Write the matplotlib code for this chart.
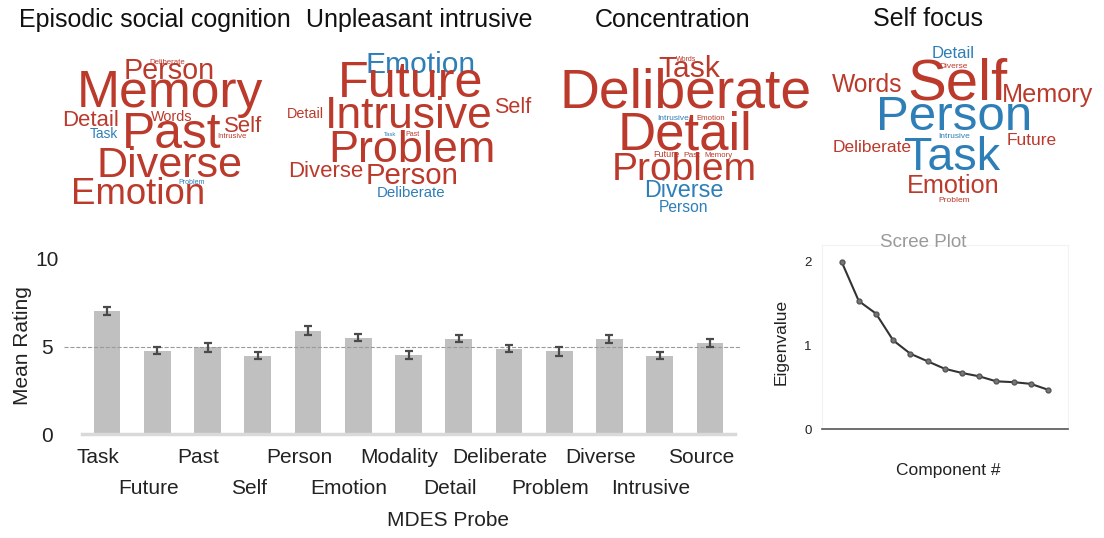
import numpy as np
import matplotlib.pyplot as plt

plt.rcParams['font.family'] = ['Liberation Sans', 'DejaVu Sans']

# MDES probe ratings
probes = ["Task", "Future", "Past", "Self", "Person", "Emotion", "Modality",
          "Detail", "Deliberate", "Problem", "Diverse", "Intrusive", "Source"]
mean_rating = [7.0, 4.73, 4.93, 4.45, 5.87, 5.47, 4.5, 5.4, 4.85, 4.7, 5.4, 4.45, 5.15]
sem = [0.23, 0.19, 0.25, 0.21, 0.27, 0.19, 0.23, 0.2, 0.2, 0.24, 0.22, 0.21, 0.23]
reference_level = 4.95

# Scree plot
components = np.arange(1, 14)
eigenvalues = [2.0, 1.53, 1.38, 1.06, 0.90, 0.81, 0.72, 0.67, 0.63, 0.57, 0.56, 0.54, 0.47]

# Word clouds: words, loading weights, sign (+1 red, -1 blue)
cloud_titles = ["Episodic social cognition", "Unpleasant intrusive", "Concentration", "Self focus"]

esc_words = ["Deliberate", "Person", "Memory", "Detail", "Words", "Self", "Task",
             "Past", "Intrusive", "Diverse", "Problem", "Emotion"]
esc_weights = [0.13, 0.48, 0.86, 0.37, 0.24, 0.37, 0.23, 0.83, 0.13, 0.72, 0.12, 0.61]
esc_signs = [1, 1, 1, 1, 1, 1, -1, 1, 1, 1, -1, 1]

ui_words = ["Emotion", "Future", "Self", "Detail", "Intrusive", "Task", "Past",
            "Problem", "Diverse", "Person", "Deliberate"]
ui_weights = [0.50, 0.84, 0.36, 0.24, 0.74, 0.10, 0.12, 0.75, 0.37, 0.49, 0.25]
ui_signs = [-1, 1, 1, 1, 1, -1, 1, 1, 1, 1, -1]

conc_words = ["Words", "Task", "Deliberate", "Intrusive", "Emotion", "Detail", "Future",
              "Past", "Memory", "Problem", "Diverse", "Person"]
conc_weights = [0.12, 0.50, 0.92, 0.14, 0.13, 0.88, 0.15, 0.14, 0.13, 0.65, 0.39, 0.26]
conc_signs = [1, 1, 1, -1, 1, 1, 1, 1, 1, 1, -1, -1]

sf_words = ["Detail", "Diverse", "Self", "Words", "Memory", "Person", "Intrusive",
            "Deliberate", "Future", "Task", "Emotion", "Problem"]
sf_weights = [0.28, 0.14, 0.97, 0.41, 0.42, 0.82, 0.14, 0.29, 0.29, 0.78, 0.42, 0.14]
sf_signs = [-1, 1, 1, 1, 1, -1, -1, 1, 1, -1, 1, 1]

# layout of the word clouds (pixel positions: centre x, baseline y)
title_pos = [(155, 27), (419, 27), (673, 27), (928, 26)]
esc_pos = [(167, 64), (169, 79), (170, 107), (91, 126), (172, 121), (243, 132), (104, 138),
           (172, 148), (232, 138), (170, 177), (192, 184), (138, 204)]
ui_pos = [(421, 73), (411, 97), (513, 113), (305, 118), (409, 128), (390, 136), (413, 136),
          (412, 162), (326, 177), (412, 184), (411, 197)]
conc_pos = [(686, 61), (689, 77), (686, 107), (673, 120), (711, 120), (685, 150), (666, 157),
            (692, 157), (718, 157), (684, 180), (684, 197), (683, 212)]
sf_pos = [(953, 58), (954, 68), (957, 100), (867, 92), (1048, 102), (954, 130), (954, 138),
          (872, 152), (1032, 145), (952, 170), (953, 193), (954, 202)]

red = '#bb3a2c'
blue = '#2e7fb8'

fig = plt.figure(figsize=(11.04, 5.38), dpi=100)

# Word clouds
top = fig.add_axes([0, 0, 1, 1], zorder=-1)
top.set_xlim(0, 1104)
top.set_ylim(538, 0)
top.axis('off')

for title, (tx, ty) in zip(cloud_titles, title_pos):
    top.text(tx, ty, title, ha='center', va='baseline', fontsize=18, color='#111')

clouds = [(esc_words, esc_weights, esc_signs, esc_pos),
          (ui_words, ui_weights, ui_signs, ui_pos),
          (conc_words, conc_weights, conc_signs, conc_pos),
          (sf_words, sf_weights, sf_signs, sf_pos)]
for words, weights, signs, pos in clouds:
    for w, wt, s, (px, py) in zip(words, weights, signs, pos):
        top.text(px, py, w, ha='center', va='baseline', fontsize=wt * 60 * 0.72,
                 color=red if s > 0 else blue)

# Bar chart
ax = fig.add_axes([82 / 1104, 104 / 538, 653 / 1104, 176 / 538])
x = np.arange(len(probes))
ax.bar(x, mean_rating, width=0.53, color='#c0c0c0', zorder=2)
ax.errorbar(x, mean_rating, yerr=sem, fmt='none', ecolor='#4a4a4a',
            elinewidth=1.6, capsize=3, capthick=1.6, zorder=4)
ax.hlines(reference_level, -0.86, 12.6, colors='#9a9a9a', linestyles='--',
          linewidth=0.8, clip_on=False, zorder=3)
ax.set_xlim(-0.5, 12.5)
ax.set_ylim(0, 10)
for s in ['top', 'right', 'left']:
    ax.spines[s].set_visible(False)
ax.spines['bottom'].set_color('#d9d9d9')
ax.spines['bottom'].set_linewidth(2.5)
ax.set_yticks([0, 5, 10])
ax.tick_params(axis='y', length=0, labelsize=15, pad=25, labelcolor='#222')
for lab in ax.get_yticklabels():
    lab.set_horizontalalignment('center')
ax.set_xticks([])
for i, p in enumerate(probes):
    yy = -0.136 if i % 2 == 0 else -0.3125
    ax.text(i - 0.18, yy, p, transform=ax.get_xaxis_transform(), ha='center',
            va='center', fontsize=15, color='#222')
ax.set_ylabel("Mean Rating", fontsize=15, color='#222')
ax.yaxis.set_label_coords(-0.077, 0.5)
ax.set_xlabel("MDES Probe", fontsize=15, color='#222')
ax.xaxis.set_label_coords(0.56, -0.44)

# Scree plot
ax2 = fig.add_axes([822 / 1104, 109 / 538, 246 / 1104, 184 / 538])
ax2.plot(components, eigenvalues, color='#333', lw=1.5, marker='o', ms=3.5,
         mfc='#777', mec='#555')
ax2.set_xlim(-0.14, 14.17)
ax2.set_ylim(0, 2.2)
ax2.spines['bottom'].set_color('#555')
ax2.spines['bottom'].set_linewidth(1.2)
for s in ['top', 'right', 'left']:
    ax2.spines[s].set_color('#f2f2f2')
    ax2.spines[s].set_linewidth(0.8)
ax2.set_yticks([0, 1, 2])
ax2.tick_params(axis='y', length=0, labelsize=9.5, pad=10, labelcolor='#222')
for lab in ax2.get_yticklabels():
    lab.set_horizontalalignment('center')
ax2.set_xticks([])
ax2.set_ylabel("Eigenvalue", fontsize=12.5, color='#222')
ax2.yaxis.set_label_coords(-0.134, 0.473)
ax2.set_xlabel("Component #", fontsize=12.5, color='#222')
ax2.xaxis.set_label_coords(0.512, -0.185)
ax2.text(0.41, 1.016, "Scree Plot", transform=ax2.transAxes, ha='center',
         va='center', fontsize=13.5, color='#9a9a9a')

fig.savefig('out.png', dpi=100)
